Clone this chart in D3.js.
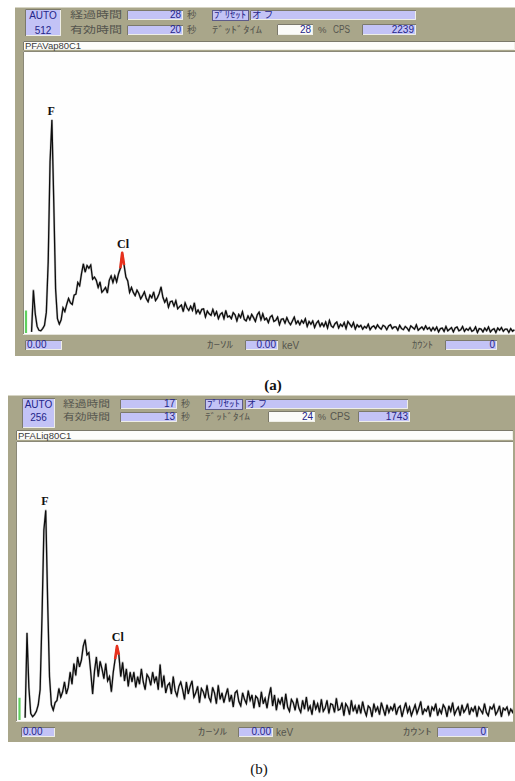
<!DOCTYPE html>
<html>
<head>
<meta charset="utf-8">
<script src="https://cdn.jsdelivr.net/npm/d3@7"></script>
<style>
  body { margin: 0; background: #ffffff; }
  svg { display: block; }
</style>
</head>
<body>
<svg id="fig" width="515" height="781"></svg>
<script>
// ---- spectrum data: counts per channel, channel 0 at energyStart keV ----
const energyStart = 0.15;
const energyStep = 0.05;

const countsA = [
  2, 78, 35, 12, 5, 4, 8, 14, 38, 130, 312, 388, 240, 80, 26, 16, 24,
  46, 39, 52, 63, 55, 52, 69, 71, 92, 86, 108, 126, 111, 123, 118, 124, 98, 102, 96, 83,
  93, 74, 78, 83, 73, 96, 104, 92, 104, 93, 108, 118, 146, 124, 102, 95, 74, 83, 74, 68, 78,
  72, 62, 68, 75, 63, 57, 69, 64, 75, 59, 64, 72, 84, 65, 56, 63, 47, 57, 58, 49,
  59, 44, 48, 51, 39, 55, 46, 41, 49, 41, 55, 36, 42, 35, 43, 44, 29, 40, 35, 32,
  43, 32, 39, 26, 34, 37, 26, 41, 29, 31, 26, 37, 33, 22, 34, 28, 39, 25, 22, 31,
  24, 34, 28, 21, 33, 38, 24, 35, 24, 27, 19, 29, 32, 21, 23, 29, 15, 25, 26, 18,
  28, 20, 15, 22, 29, 17, 22, 15, 23, 18, 26, 12, 21, 16, 22, 10, 18, 22, 12, 18,
  12, 20, 9, 23, 13, 10, 17, 20, 9, 16, 12, 19, 8, 21, 16, 11, 19, 7, 15, 11,
  14, 7, 12, 9, 16, 6, 11, 13, 8, 15, 10, 7, 14, 12, 6, 13, 15, 8, 11,
  11, 5, 14, 8, 6, 12, 9, 4, 13, 10, 7, 15, 5, 8, 11, 6, 13, 7, 10, 4,
  10, 5, 11, 2, 8, 9, 3, 12, 4, 7, 10, 2, 9, 11, 4, 6, 12, 3, 8, 5,
  10, 3, 5, 11, 1, 8, 7, 2, 9, 4, 11, 2, 6, 8, 1, 9, 5, 10, 3, 7,
  7, 1, 8, 3, 6
];

const countsB = [
  2, 80, 30, 6, 3, 5, 8, 14, 28, 95, 175, 193, 110, 40, 14, 9, 16,
  18, 29, 21, 26, 35, 24, 30, 44, 33, 52, 41, 58, 49, 55, 68, 74, 60, 62, 44, 24,
  45, 58, 40, 54, 47, 38, 52, 36, 40, 26, 44, 56, 68, 60, 40, 53, 36, 47, 31, 44, 35,
  44, 30, 40, 33, 47, 35, 28, 42, 39, 32, 44, 35, 40, 28, 51, 30, 41, 25, 32, 34,
  24, 40, 27, 22, 31, 35, 28, 19, 35, 24, 31, 36, 21, 25, 31, 16, 29, 26, 20, 32,
  21, 17, 30, 25, 15, 32, 19, 25, 16, 23, 29, 17, 23, 12, 25, 27, 17, 13, 25, 19,
  15, 27, 18, 23, 11, 22, 20, 12, 26, 15, 20, 11, 22, 30, 13, 23, 9, 19, 15, 21,
  10, 24, 12, 8, 19, 16, 9, 20, 11, 7, 18, 10, 21, 9, 13, 5, 18, 10, 15, 7,
  19, 8, 11, 18, 6, 15, 14, 7, 20, 9, 10, 16, 4, 15, 12, 5, 18, 8, 13, 6,
  14, 6, 17, 9, 4, 13, 11, 3, 15, 8, 12, 5, 16, 10, 4, 14, 7, 12, 9,
  15, 5, 11, 13, 3, 10, 16, 7, 12, 4, 9, 14, 6, 11, 17, 5, 10, 8, 13, 3,
  12, 9, 15, 4, 10, 6, 14, 11, 3, 13, 8, 16, 5, 9, 12, 4, 14, 7, 10, 15,
  5, 11, 8, 13, 3, 12, 9, 6, 15, 7, 4, 12, 10, 14, 5, 8, 13, 3, 11, 9,
  12, 5, 10, 7, 13
];

// ---- instrument readouts ----
const sampleNames = ["PFAVap80C1", "PFALiq80C1"];
const fullScale = [512, 256];
const elapsedSec = [28, 17];
const liveSec = [20, 13];
const deadPct = [28, 24];
const cpsValues = [2239, 1743];
const captions = ["(a)", "(b)"];
const cursorKeV = ["0.00", "0.00"];
const cursorCount = [0, 0];
const startKeV = ["0.00", "0.00"];

// ---- peak identification ----
const peakNames = ["F", "Cl"];
const peakEnergies = [0.677, 2.622];
const roiRange = [2.53, 2.67];
const keVMax = 13.2;

// ---- screen layout of the two analyser windows ----
const layouts = [
  {
    frameX: 15, frameR: 515, top: 7, headBot: 40, titleY: 41, titleH: 9,
    plotL: 23, plotR: 515, plotT: 51, plotB: 334, barB: 356,
    zeroX: 26, pxPerKeV: 37, baseY: 333, fullY: 52,
    auto: [25, 9, 36, 27], row1: 10, row2: 25, rowH: 10, font: 9.5,
    lab1: [70, 52], boxX: 127, boxW: 56, secX: 187,
    preset: [212, 36], off: [250, 166], deadLab: [212, 50], deadBox: [277, 36],
    pctX: 318, cpsLab: [333, 17], cpsBox: [362, 54],
    barBoxY: 340, startBox: [25, 37], curLab: [207, 26], curBox: [245, 33], kevX: 282,
    cntLab: [412, 21], cntBox: [445, 52],
    capX: 273, capY: 390, capBold: true
  },
  {
    frameX: 8, frameR: 515, top: 395, headBot: 430, titleY: 430, titleH: 10,
    plotL: 16, plotR: 513, plotT: 441, plotB: 721, barB: 742,
    zeroX: 19.5, pxPerKeV: 37.5, baseY: 720, fullY: 442,
    auto: [22, 398, 33, 30], row1: 399, row2: 412, rowH: 10, font: 9,
    lab1: [63, 47], boxX: 120, boxW: 57, secX: 181,
    preset: [205, 37], off: [245, 163], deadLab: [205, 45], deadBox: [268, 47],
    pctX: 318, cpsLab: [330, 20], cpsBox: [358, 52],
    barBoxY: 727, startBox: [21, 34], curLab: [198, 29], curBox: [238, 35], kevX: 276,
    cntLab: [403, 29], cntBox: [437, 51],
    capX: 259, capY: 774, capBold: false
  }
];

const OLIVE = "#a9a68a";
const LAV = "#c3c3f6";
const NAVY = "#25258a";
const LABEL = "#55554e";
const JP = "'Noto Sans CJK JP', 'Noto Sans', sans-serif";
const LAT = "'Liberation Sans', Arial, sans-serif";

const svg = d3.select("#fig");

function sunken(g, x, y, w, h, fill) {
  g.append("rect").attr("x", x).attr("y", y).attr("width", w).attr("height", h).attr("fill", fill);
  g.append("path")
    .attr("d", `M${x + 0.5},${y + h}V${y + 0.5}H${x + w}`)
    .attr("fill", "none").attr("stroke", "#7b796a").attr("stroke-width", 1);
  g.append("path")
    .attr("d", `M${x + w - 0.5},${y + 1}V${y + h - 0.5}H${x + 1}`)
    .attr("fill", "none").attr("stroke", "#eeeee6").attr("stroke-width", 1);
}

function valueBox(g, x, y, w, h, fill, text, align, size, family) {
  sunken(g, x, y, w, h, fill);
  const t = g.append("text")
    .attr("y", y + h - 1.6)
    .attr("font-family", family || LAT).attr("font-size", size || 10).attr("fill", NAVY)
    .text(text);
  if (align === "start") t.attr("x", x + 2);
  else t.attr("x", x + w - 2).attr("text-anchor", "end");
}

function label(g, x, yMid, text, len, size) {
  const t = g.append("text")
    .attr("x", x).attr("y", yMid + 3.4)
    .attr("font-family", JP).attr("font-size", size).attr("fill", LABEL)
    .text(text);
  if (len) t.attr("textLength", len).attr("lengthAdjust", "spacingAndGlyphs");
  return t;
}

function drawPanel(idx) {
  const L = layouts[idx];
  const counts = idx === 0 ? countsA : countsB;
  const fs = L.font;
  const g = svg.append("g");

  // window frame
  g.append("rect").attr("x", L.frameX).attr("y", L.top)
    .attr("width", L.frameR - L.frameX).attr("height", L.barB - L.top).attr("fill", OLIVE);
  g.append("line").attr("x1", L.frameX).attr("x2", L.frameR)
    .attr("y1", L.top + 0.5).attr("y2", L.top + 0.5).attr("stroke", "#d6d4c4");

  // readout header
  const r1 = L.row1 + L.rowH / 2, r2 = L.row2 + L.rowH / 2;
  sunken(g, L.auto[0], L.auto[1], L.auto[2], L.auto[3], LAV);
  g.append("text").attr("x", L.auto[0] + L.auto[2] / 2).attr("y", r1 + 3.6)
    .attr("text-anchor", "middle").attr("font-family", LAT).attr("font-size", 10)
    .attr("fill", NAVY).text("AUTO");
  g.append("text").attr("x", L.auto[0] + L.auto[2] / 2).attr("y", r2 + 3.6)
    .attr("text-anchor", "middle").attr("font-family", LAT).attr("font-size", 10)
    .attr("fill", NAVY).text(fullScale[idx]);

  label(g, L.lab1[0], r1, "経過時間", L.lab1[1], fs);
  label(g, L.lab1[0], r2, "有効時間", L.lab1[1], fs);
  valueBox(g, L.boxX, L.row1, L.boxW, L.rowH, LAV, elapsedSec[idx]);
  valueBox(g, L.boxX, L.row2, L.boxW, L.rowH, LAV, liveSec[idx]);
  label(g, L.secX, r1, "秒", null, fs);
  label(g, L.secX, r2, "秒", null, fs);

  // preset button
  g.append("rect").attr("x", L.preset[0] + 0.5).attr("y", L.row1 + 0.5)
    .attr("width", L.preset[1]).attr("height", L.rowH)
    .attr("fill", LAV).attr("stroke", "#5d5b8a");
  g.append("text").attr("x", L.preset[0] + L.preset[1] / 2).attr("y", r1 + 3.4)
    .attr("text-anchor", "middle").attr("font-family", JP).attr("font-size", fs)
    .attr("fill", NAVY).attr("textLength", L.preset[1] - 4).attr("lengthAdjust", "spacingAndGlyphs")
    .text("ﾌﾟﾘｾｯﾄ");
  valueBox(g, L.off[0], L.row1, L.off[1], L.rowH, LAV, "オ フ", "start", fs, JP);

  label(g, L.deadLab[0], r2, "ﾃﾞｯﾄﾞﾀｲﾑ", L.deadLab[1], fs);
  valueBox(g, L.deadBox[0], L.row2 - 1, L.deadBox[1], L.rowH + 1, "#fbfbf8", deadPct[idx]);
  g.append("text").attr("x", L.pctX).attr("y", r2 + 3.4).attr("font-family", LAT)
    .attr("font-size", fs).attr("fill", LABEL).text("%");
  g.append("text").attr("x", L.cpsLab[0]).attr("y", r2 + 3.4).attr("font-family", LAT)
    .attr("font-size", 10).attr("fill", LABEL)
    .attr("textLength", L.cpsLab[1]).attr("lengthAdjust", "spacingAndGlyphs").text("CPS");
  valueBox(g, L.cpsBox[0], L.row2 - 1, L.cpsBox[1], L.rowH + 1, LAV, cpsValues[idx]);

  // sample title strip
  sunken(g, L.plotL, L.titleY, L.plotR - L.plotL, L.titleH, "#fdfdfb");
  g.append("text").attr("x", L.plotL + 2).attr("y", L.titleY + L.titleH - 1)
    .attr("font-family", LAT).attr("font-size", 9.5).attr("fill", "#3a3a3a")
    .text(sampleNames[idx]);

  // plot area
  g.append("rect").attr("x", L.plotL).attr("y", L.plotT)
    .attr("width", L.plotR - L.plotL).attr("height", L.plotB - L.plotT).attr("fill", "#fefefe");
  g.append("path").attr("d", `M${L.plotL + 0.5},${L.plotB}V${L.plotT + 0.5}H${L.plotR}`)
    .attr("fill", "none").attr("stroke", "#8a8877");
  g.append("line").attr("x1", L.plotL).attr("x2", L.plotR)
    .attr("y1", L.plotB + 0.5).attr("y2", L.plotB + 0.5).attr("stroke", "#e4e3da");

  const x = d3.scaleLinear().domain([0, keVMax]).range([L.zeroX, L.zeroX + keVMax * L.pxPerKeV]);
  const y = d3.scaleLinear().domain([0, fullScale[idx]]).range([L.baseY, L.fullY]);
  const energy = i => energyStart + i * energyStep;

  const clipId = "clip" + idx;
  svg.append("clipPath").attr("id", clipId).append("rect")
    .attr("x", L.plotL + 1).attr("y", L.plotT + 1)
    .attr("width", L.plotR - L.plotL - 1).attr("height", L.plotB - L.plotT - 1);
  const pg = g.append("g").attr("clip-path", `url(#${clipId})`);

  // zero-energy marker
  pg.append("line").attr("x1", x(0)).attr("x2", x(0))
    .attr("y1", y(0)).attr("y2", y(fullScale[idx] * 0.08))
    .attr("stroke", "#5fd05f").attr("stroke-width", 2.2);

  const line = d3.line().x((d, i) => x(energy(i))).y(d => y(d));
  pg.append("path").datum(counts).attr("d", line)
    .attr("fill", "none").attr("stroke", "#8a8a8a").attr("stroke-width", 2.3)
    .attr("stroke-opacity", 0.45).attr("stroke-linejoin", "round");
  pg.append("path").datum(counts).attr("d", line)
    .attr("fill", "none").attr("stroke", "#0d0d0d").attr("stroke-width", 1.3)
    .attr("stroke-linejoin", "miter");

  // highlighted Cl region of interest
  const roi = counts.map((c, i) => ({ e: energy(i), c }))
    .filter(d => d.e >= roiRange[0] && d.e <= roiRange[1]);
  pg.append("path").datum(roi)
    .attr("d", d3.line().x(d => x(d.e)).y(d => y(d.c)))
    .attr("fill", "none").attr("stroke", "#e8301c").attr("stroke-width", 2.6)
    .attr("stroke-linejoin", "round");

  // peak labels
  peakNames.forEach((name, k) => {
    const near = counts.filter((c, i) => Math.abs(energy(i) - peakEnergies[k]) <= 0.08);
    const top = d3.max(near);
    pg.append("text").attr("x", x(peakEnergies[k])).attr("y", y(top) - 5)
      .attr("text-anchor", "middle").attr("font-family", "'Liberation Serif', 'Times New Roman', serif")
      .attr("font-weight", "bold").attr("font-size", 12).attr("fill", "#111").text(name);
  });

  // status bar
  const bm = L.barBoxY + 5;
  valueBox(g, L.startBox[0], L.barBoxY, L.startBox[1], 10, LAV, startKeV[idx], "start");
  label(g, L.curLab[0], bm, "ｶｰｿﾙ", L.curLab[1], fs);
  valueBox(g, L.curBox[0], L.barBoxY, L.curBox[1], 10, LAV, cursorKeV[idx]);
  g.append("text").attr("x", L.kevX).attr("y", bm + 3.6).attr("font-family", LAT)
    .attr("font-size", 10).attr("fill", LABEL).text("keV");
  label(g, L.cntLab[0], bm, "ｶｳﾝﾄ", L.cntLab[1], fs);
  valueBox(g, L.cntBox[0], L.barBoxY, L.cntBox[1], 10, LAV, cursorCount[idx]);

  // caption
  svg.append("text").attr("x", L.capX).attr("y", L.capY).attr("text-anchor", "middle")
    .attr("font-family", "'Liberation Serif', 'Times New Roman', serif")
    .attr("font-weight", L.capBold ? "bold" : "normal").attr("font-size", 15)
    .attr("fill", "#111").text(captions[idx]);
}

drawPanel(0);
drawPanel(1);
</script>
</body>
</html>
